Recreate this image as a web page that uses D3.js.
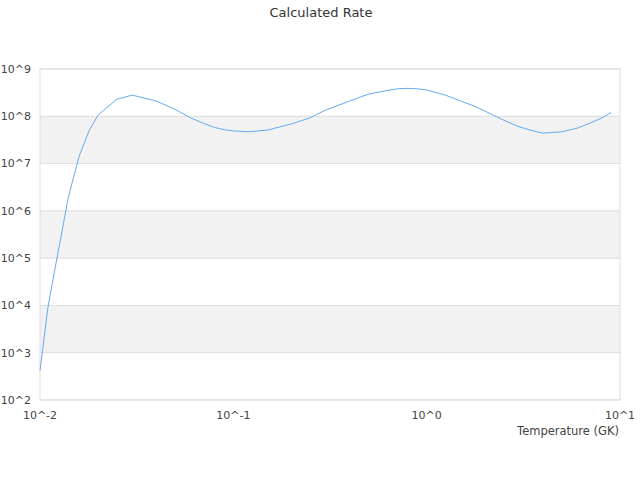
<!DOCTYPE html>
<html>
<head>
<meta charset="utf-8">
<script src="https://cdn.jsdelivr.net/npm/d3@7"></script>
<style>
  body { margin: 0; background: #fff; }
  text { font-family: "DejaVu Sans", sans-serif; fill: #444; }
</style>
</head>
<body>
<div id="chart"></div>
<script>
// Temperature grid (GK) and calculated rate
const temperatures = [0.01, 0.011, 0.012, 0.013, 0.014, 0.015, 0.016, 0.018, 0.02, 0.025,
  0.03, 0.04, 0.05, 0.06, 0.07, 0.08, 0.09, 0.1, 0.12, 0.15, 0.2, 0.25, 0.3, 0.4, 0.5,
  0.6, 0.7, 0.8, 0.9, 1, 1.25, 1.5, 1.75, 2, 2.5, 3, 3.5, 4, 5, 6, 7, 8, 9];
const rates = [4.2e2, 9.3e3, 6.5e4, 3.7e5, 1.9e6, 5.6e6, 1.5e7, 5.1e7, 1.07e8, 2.3e8,
  2.8e8, 2.1e8, 1.4e8, 9.3e7, 7.1e7, 5.8e7, 5.2e7, 4.9e7, 4.7e7, 5.1e7, 6.9e7, 9.3e7, 1.35e8, 2.1e8, 2.95e8,
  3.4e8, 3.8e8, 3.9e8, 3.8e8, 3.6e8, 2.8e8, 2.1e8, 1.66e8, 1.29e8, 8.3e7, 6.0e7, 5.0e7, 4.4e7, 4.7e7, 5.6e7, 7.2e7, 9.1e7, 1.2e8];
const xTicks = [1e-2, 1e-1, 1e0, 1e1];
const xTickLabels = ["10^-2", "10^-1", "10^0", "10^1"];
const yTicks = [1e2, 1e3, 1e4, 1e5, 1e6, 1e7, 1e8, 1e9];
const yTickLabels = ["10^2", "10^3", "10^4", "10^5", "10^6", "10^7", "10^8", "10^9"];
const title = "Calculated Rate";
const xTitle = "Temperature (GK)";

const W = 640, H = 480;
const margin = { top: 69, right: 20, bottom: 80, left: 40 };
const width = W - margin.left - margin.right,
      height = H - margin.top - margin.bottom;

const svg = d3.select('#chart').append('svg')
  .attr('width', W).attr('height', H);

svg.append('text')
  .attr('x', 321).attr('y', 17)
  .attr('text-anchor', 'middle')
  .style('font-size', '13px')
  .style('fill', '#333')
  .text(title);

const g = svg.append('g').attr('transform', `translate(${margin.left},${margin.top})`);

const x = d3.scaleLog().domain([1e-2, 1e1]).range([0, width]);
const y = d3.scaleLog().domain([1e2, 1e9]).range([height, 0]);

// alternating bands
const bands = yTicks.slice(0, -1).map((v, i) => [v, yTicks[i + 1]]).filter((d, i) => i % 2 === 1);
g.selectAll('rect.band').data(bands).enter().append('rect')
  .attr('class', 'band')
  .attr('x', 0).attr('width', width)
  .attr('y', d => y(d[1])).attr('height', d => y(d[0]) - y(d[1]))
  .attr('fill', '#f2f2f2');

// gridlines
g.selectAll('line.grid').data(yTicks).enter().append('line')
  .attr('class', 'grid')
  .attr('x1', 0).attr('x2', width)
  .attr('y1', d => y(d)).attr('y2', d => y(d))
  .attr('stroke', '#ddd');

g.append('rect')
  .attr('x', 0).attr('y', 0).attr('width', width).attr('height', height)
  .attr('fill', 'none').attr('stroke', '#ddd');

// y labels
g.selectAll('text.ylab').data(yTicks).enter().append('text')
  .attr('class', 'ylab')
  .attr('x', -9).attr('y', d => y(d))
  .attr('dy', '0.35em')
  .attr('text-anchor', 'end')
  .style('font-size', '11px')
  .text((d, i) => yTickLabels[i]);

// x labels
g.selectAll('text.xlab').data(xTicks).enter().append('text')
  .attr('class', 'xlab')
  .attr('x', d => x(d)).attr('y', height + 19)
  .attr('text-anchor', 'middle')
  .style('font-size', '11px')
  .text((d, i) => xTickLabels[i]);

svg.append('text')
  .attr('x', margin.left + width - 1).attr('y', margin.top + height + 35)
  .attr('text-anchor', 'end')
  .style('font-size', '11.5px')
  .text(xTitle);

const line = d3.line()
  .x(d => x(d[0]))
  .y(d => y(d[1]));

g.append('path')
  .datum(temperatures.map((t, i) => [t, rates[i]]))
  .attr('d', line)
  .attr('fill', 'none')
  .attr('stroke', '#66aaee')
  .attr('stroke-width', 1);
</script>
</body>
</html>
